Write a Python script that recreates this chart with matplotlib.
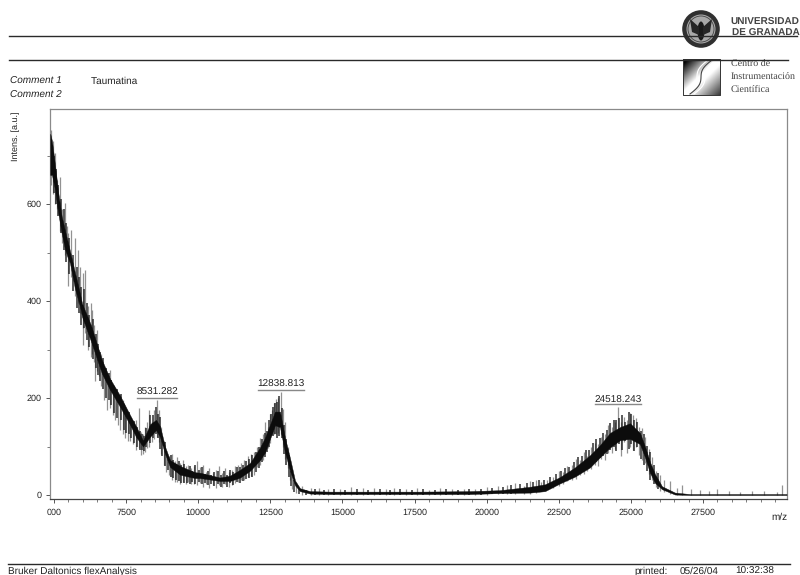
import numpy as np
import matplotlib
matplotlib.use("Agg")
import matplotlib.pyplot as plt
from matplotlib.patches import Circle, Ellipse, Polygon

plt.rcParams['font.family'] = ['Liberation Sans', 'DejaVu Sans']
plt.rcParams['text.hinting'] = 'no_hinting'
plt.rcParams['text.hinting_factor'] = 1

# ---- data ----
band_mz = [4870, 4930, 5035, 5150, 5265, 5381, 5555, 5728, 5901, 5971, 6283, 6664, 6941, 7288, 7635,
           7843, 8086, 8329, 8537, 8675, 8848, 9022, 9368, 9888, 10062, 10755, 11102, 11449, 11795,
           12142, 12315, 12489, 12662, 12835, 13009, 13182, 13355, 13529, 13876, 14569, 15609, 17689,
           19423, 20463, 21503, 22023, 22543, 23063, 23583, 23930, 24276, 24623, 24970, 25317, 25490,
           25663, 25837, 26079, 26530, 27050, 30400]
band_hi = [745, 730, 680, 622, 575, 545, 503, 458, 415, 395, 350, 278, 240, 205, 165,
           142, 112, 146, 155, 142, 100, 72, 60, 47, 46, 36, 40, 52, 66,
           98, 118, 145, 172, 172, 118, 76, 30, 14, 8, 7, 7, 7,
           8, 10, 17, 22, 37, 57, 82, 103, 128, 140, 148, 128, 100,
           68, 43, 18, 5, 2, 2]
band_lo = [660, 660, 630, 580, 540, 507, 478, 425, 389, 368, 317, 250, 217, 182, 145,
           120, 100, 120, 134, 120, 85, 58, 42, 35, 35, 29, 29, 36, 50,
           72, 88, 116, 144, 140, 88, 50, 20, 8, 3, 2, 2, 2,
           2, 4, 5, 8, 24, 38, 57, 78, 98, 113, 116, 105, 78,
           46, 25, 12, 1, 0, 0]

spike_mz = [4900, 4960, 5030, 5100, 5208, 5280, 5381, 5450, 5485, 5600, 5728, 5830, 5900, 5990, 6005,
            6090, 6180, 6283, 6317, 6380, 6421, 6490, 6570, 6640, 6740, 6838, 6941, 7040, 7130, 7220,
            7288, 7380, 7462, 7560, 7640, 7730, 7830, 7947, 8010, 8086, 8160, 8230, 8294, 8400, 8480,
            8571, 8640, 8720, 8800, 8900, 9000, 9090, 9180, 9270, 9370, 9460, 9560, 9650, 9750, 9850,
            9950, 10060, 10170, 10280, 10390, 10500, 10610, 10720, 10830, 10940, 11050, 11160, 11270,
            11380, 11490, 11600, 11710, 11820, 11930, 12040, 12150, 12260, 12330, 12420, 12490, 12560,
            12640, 12700, 12780, 12870, 12950, 13010, 13100, 13170, 13260, 13400, 13600, 13900, 14200,
            14500, 14900, 15300, 15700, 16100, 16500, 16800, 17200, 17600, 18000, 18400, 18800, 19200,
            19600, 20000, 20400, 20700, 21000, 21300, 21500, 21700, 21900, 22100, 22300, 22500, 22650,
            22800, 22950, 23100, 23230, 23360, 23490, 23620, 23740, 23860, 23980, 24100, 24220, 24340,
            24450, 24553, 24650, 24760, 24870, 24970, 25070, 25170, 25280, 25390, 25500, 25620, 25740,
            25860, 26000, 26150, 26350, 26600, 26780, 27100, 27400, 27700, 28000, 28400, 28800, 29200,
            29600, 30050, 30250]
spike_top = [752, 730, 705, 650, 656, 590, 602, 555, 540, 546, 530, 505, 470, 458, 400,
             464, 390, 395, 381, 350, 320, 340, 300, 290, 258, 250, 258, 225, 215, 205,
             205, 196, 180, 170, 160, 150, 155, 179, 130, 125, 140, 150, 175, 150, 175,
             196, 175, 140, 110, 85, 80, 85, 70, 78, 66, 72, 60, 62, 55, 60,
             70, 58, 62, 48, 55, 45, 52, 60, 46, 55, 48, 52, 60,
             62, 66, 72, 80, 84, 88, 100, 118, 125, 150, 140, 168, 175,
             190, 198, 200, 212, 178, 150, 100, 70, 42, 25, 18, 14, 15,
             12, 13, 16, 14, 15, 12, 14, 13, 15, 11, 14, 12, 13,
             12, 16, 18, 20, 24, 18, 28, 30, 27, 32, 38, 50, 48,
             60, 62, 75, 72, 88, 80, 100, 108, 105, 120, 125, 145, 140,
             150, 181, 150, 160, 155, 170, 165, 158, 140, 138, 120, 95, 78,
             50, 42, 30, 28, 14, 20, 12, 10, 9, 12, 8, 7, 9,
             8, 6, 20]
spike_bot = [640, 620, 600, 590, 545, 520, 495, 490, 430, 450, 410, 395, 375, 345, 310,
             335, 300, 285, 290, 275, 235, 255, 245, 225, 195, 175, 180, 165, 155, 145,
             135, 125, 118, 112, 112, 105, 92, 97, 82, 84, 88, 97, 100, 110, 115,
             120, 110, 85, 62, 48, 42, 32, 27, 27, 22, 27, 22, 27, 22, 22,
             20, 24, 17, 22, 14, 20, 14, 20, 16, 22, 16, 20, 24,
             27, 30, 32, 37, 40, 42, 57, 62, 72, 87, 97, 107, 125,
             125, 125, 127, 125, 100, 75, 55, 32, 12, 4, 1, 1, 1,
             1, 1, 1, 1, 1, 1, 1, 1, 1, 1, 1, 1, 1,
             1, 1, 2, 2, 3, 2, 3, 5, 8, 12, 15, 18, 22,
             28, 30, 34, 42, 44, 50, 54, 62, 60, 74, 72, 87, 87,
             94, 115, 80, 110, 87, 100, 92, 100, 82, 72, 67, 44, 32,
             16, 9, 6, 2, 0, 1, 0, 0, 0, 0, 0, 0, 0,
             0, 0, 0]

tooth_mz = [4990, 5070, 5150, 5240, 5330, 5420, 5520, 5650, 5780, 5860, 5950, 6040, 6130, 6230, 6340, 6450,
            6530, 6610, 6690, 6790, 6890, 6990, 7090, 7180, 7330, 7420, 7510, 7600, 7680, 7780, 7880, 7980,
            8050, 8120, 8200, 8340, 8440, 8530, 8610, 8680, 8760, 8850, 8950, 9050, 9130, 9220, 9320, 9420,
            9510, 9600, 9700, 9800, 9900, 10010, 10120, 10230, 10340, 10450, 10560, 10670, 10780, 10890,
            11000, 11110, 11220, 11330, 11440, 11550, 11660, 11770, 11880, 11990, 12100, 12210, 12300, 12380,
            12460, 12530, 12600, 12670, 12740, 12810, 12910, 12980, 13060, 13140, 13220, 13310, 13500,
            13750, 14050, 14350, 14700, 15100, 15500, 15900, 16300, 16650, 17000, 17400, 17800, 18200, 18600,
            19000, 19400, 19800, 20200, 20550, 20850, 21150, 21400, 21600, 21800, 22000, 22200, 22400, 22570,
            22720, 22870, 23020, 23170, 23300, 23430, 23550, 23680, 23800, 23920, 24040, 24160, 24280, 24400,
            24500, 24600, 24710, 24810, 24920, 25020, 25120, 25230, 25340, 25450, 25560, 25680, 25800, 25930]
tooth_top = [700, 672, 640, 610, 590, 560, 530, 495, 470, 450, 428, 425, 395, 372, 362, 332,
             312, 295, 282, 262, 252, 238, 225, 218, 208, 188, 176, 172, 158, 152, 140, 132,
             126, 122, 138, 165, 165, 182, 168, 160, 122, 110, 78, 82, 72, 65, 70, 62,
             65, 52, 60, 50, 62, 52, 58, 44, 50, 42, 48, 50, 42, 50,
             42, 52, 48, 58, 58, 62, 70, 74, 82, 88, 100, 116, 128, 132,
             155, 168, 182, 190, 192, 205, 180, 145, 115, 82, 50, 30, 14,
             11, 12, 10, 12, 11, 13, 11, 12, 10, 12, 11, 13, 10, 12,
             11, 12, 13, 15, 16, 20, 22, 25, 26, 30, 30, 38, 44, 50,
             55, 58, 68, 78, 80, 92, 92, 108, 115, 118, 128, 135, 148, 155,
             155, 158, 165, 150, 172, 168, 155, 150, 132, 125, 102, 88, 62, 45]
tooth_bot = [622, 600, 575, 540, 505, 480, 455, 420, 385, 375, 350, 345, 320, 305, 280, 262,
             248, 235, 218, 200, 195, 185, 170, 158, 155, 135, 128, 125, 118, 108, 100, 92,
             92, 90, 100, 108, 118, 125, 118, 95, 80, 60, 52, 38, 35, 32, 28, 24,
             24, 25, 22, 26, 23, 26, 22, 25, 20, 22, 18, 22, 16, 22,
             17, 24, 20, 26, 24, 28, 34, 36, 38, 48, 55, 68, 78, 88,
             100, 122, 122, 125, 118, 122, 118, 85, 62, 38, 18, 6, 2,
             1, 1, 1, 1, 1, 1, 1, 1, 1, 1, 1, 1, 1, 1,
             1, 1, 1, 2, 2, 3, 4, 6, 8, 10, 14, 18, 20, 24,
             32, 34, 38, 46, 48, 55, 60, 65, 68, 76, 80, 85, 92, 98,
             90, 105, 92, 112, 95, 105, 90, 98, 75, 62, 50, 32, 22, 12]

peak_mz = [8571, 12870, 24553]
peak_labels = ["8531.282", "12838.813", "24518.243"]
peak_text_y = [212, 228, 196]
peak_line_y = [200, 217, 187]
peak_half_width = [710, 800, 800]

x_ticks = [5000, 7500, 10000, 12500, 15000, 17500, 20000, 22500, 25000, 27500]
x_labels = ["000", "7500", "10000", "12500", "15000", "17500", "20000", "22500", "25000", "27500"]
y_ticks = [0, 200, 400, 600]

# ---- figure ----
fig = plt.figure(figsize=(8.0, 5.75), dpi=100, facecolor='white')
L, R, T, B = 50, 787, 109, 499
ax = fig.add_axes([L / 800, 1 - B / 575, (R - L) / 800, (B - T) / 575])
ax.set_xlim(4861, 30414)
ax.set_ylim(-8.2, 796)

ax.fill_between(band_mz, band_lo, band_hi, color='#0c0c0c', lw=0.3, zorder=3)
ax.vlines(tooth_mz, tooth_bot, tooth_top, color='#222222', lw=1.3, alpha=0.8, zorder=2.5)
ax.vlines(spike_mz, spike_bot, spike_top, color='#4a4a4a', lw=0.9, alpha=0.6, zorder=2)

for m, lab, ty, ly, hw in zip(peak_mz, peak_labels, peak_text_y, peak_line_y, peak_half_width):
    ax.text(m, ty, lab, ha='center', va='center', fontsize=6.9, color='#222222')
    ax.plot([m - hw, m + hw], [ly, ly], color='#888888', lw=1.0)

for s in ax.spines.values():
    s.set_color('#8a8a8a')
    s.set_linewidth(0.9)
ax.spines['bottom'].set_color('#444444')

ax.set_xticks(x_ticks)
ax.set_xticklabels(x_labels)
ax.set_xticks(np.arange(5000, 30001, 500), minor=True)
ax.set_yticks(y_ticks)
ax.set_yticks(np.arange(0, 701, 100), minor=True)
ax.tick_params(axis='both', which='major', length=3, width=0.7, color='#555555',
               labelsize=6.5, labelcolor='#222222')
ax.tick_params(axis='both', which='minor', length=2.2, width=0.6, color='#666666')
ax.tick_params(axis='x', pad=4)
ax.tick_params(axis='y', pad=3)

# ---- page furniture in pixel coordinates ----
ov = fig.add_axes([0, 0, 1, 1], facecolor='none', zorder=5)
ov.set_xlim(0, 800)
ov.set_ylim(575, 0)
ov.axis('off')

for x0, x1, y, lw in [(9, 797, 36, 1.0), (9, 788, 60, 1.0), (8, 790, 564, 1.0)]:
    ov.plot([x0, x1], [y, y], color='#2a2a2a', lw=lw, zorder=6)

ov.text(10, 83.5, "Comment 1", style='italic', fontsize=7.2, va='baseline', color='#222222')
ov.text(10, 98, "Comment 2", style='italic', fontsize=7.2, va='baseline', color='#222222')
ov.text(91, 83.5, "Taumatina", fontsize=7.2, va='baseline', color='#222222')
ov.text(15.5, 136, "Intens. [a.u.]", rotation=90, fontsize=6.8, va='center', ha='center', color='#222222')
ov.text(787, 520, "m/z", fontsize=7.2, va='baseline', ha='right', color='#222222')
ov.text(8, 574, "Bruker Daltonics flexAnalysis", fontsize=7.3, va='baseline', color='#222222')
ov.text(634, 574, "printed:", fontsize=7.2, va='baseline', color='#222222')
ov.text(680, 574, "05/26/04", fontsize=7.2, va='baseline', color='#222222')
ov.text(735, 574, "10:32:38", fontsize=7.2, va='baseline', color='#222222')

ov.text(730, 24.5, "UNIVERSIDAD", fontsize=7.3, va='baseline', color='#444444', fontweight='bold')
ov.text(732, 35.5, "DE GRANADA", fontsize=7.3, va='baseline', color='#444444', fontweight='bold')
serif = ['Liberation Serif', 'DejaVu Serif']
for y, t in [(67, "Centro de"), (79.5, "Instrumentación"), (92, "Científica")]:
    ov.text(731, y, t, fontsize=7.5, family=serif, va='baseline', color='#444444')

# seal
ov.add_patch(Circle((701, 29), 18.8, fc='#303030', ec='none', zorder=4))
ov.add_patch(Circle((701, 29), 14.5, fc='#a8a8a8', ec='none', zorder=4))
ov.add_patch(Circle((701, 29), 13, fc='none', ec='#444444', lw=0.6, zorder=4))
ov.add_patch(Ellipse((701, 31), 7, 19, fc='#1a1a1a', ec='none', zorder=4))
ov.add_patch(Polygon([(690, 19), (699, 27), (699, 35), (692, 32)], fc='#262626', ec='none', zorder=4))
ov.add_patch(Polygon([(712, 19), (703, 27), (703, 35), (710, 32)], fc='#262626', ec='none', zorder=4))

# square logo
xx, yy = np.meshgrid(np.linspace(0, 1, 64), np.linspace(0, 1, 64))
grad = np.clip(1.25 * (xx + yy) - 0.15, 0, 1)
grad = np.where(xx + yy > 1.15, np.clip(1.0 - (xx + yy - 1.15) * 0.9, 0, 1), grad)
ov.imshow(grad, cmap='gray', vmin=0, vmax=1, extent=(683, 720, 95, 59), aspect='auto', zorder=4)
tt = np.linspace(0, 1, 40)
for dx, c in [(0, '#ffffff'), (4, '#444444'), (8, '#ffffff')]:
    ov.plot(686 + dx + 22 * (tt + 0.15 * np.sin(2 * np.pi * tt)), 94 - 34 * tt, color=c, lw=0.8, zorder=4)
ov.plot([683, 720, 720, 683, 683], [59, 59, 95, 95, 59], color='#333333', lw=0.7, zorder=4)
ov.set_xlim(0, 800)
ov.set_ylim(575, 0)

fig.savefig('out.png', dpi=100)
